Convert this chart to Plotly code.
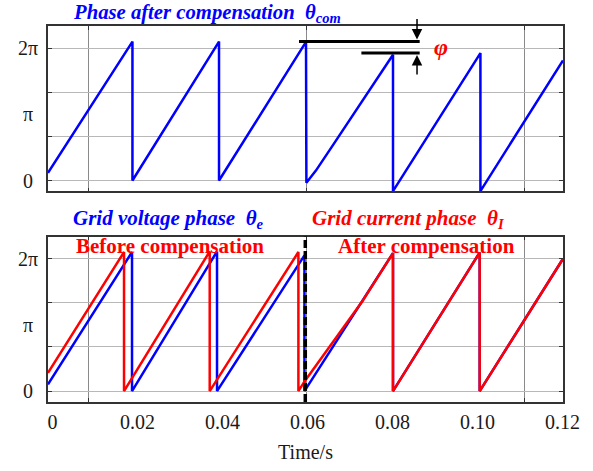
import math
import plotly.graph_objects as go

PI = math.pi

# Time axis limits and tick labels (seconds)
t_range = [-0.00104, 0.12014]
t_ticks = [0, 0.02, 0.04, 0.06, 0.08, 0.10, 0.12]
t_ticktext = ["0", "0.02", "0.04", "0.06", "0.08", "0.10", "0.12"]
t_grid = [0.0084, 0.0597, 0.1110]

# Phase axis limits, grid and labels (rad)
ph_range = [-0.518, 7.335]
ph_grid = [0, 2 * PI / 3, 4 * PI / 3, 2 * PI]
ph_ticks = [0, PI, 2 * PI]
ph_ticktext = ["0\u2005", "\u03c0\u2005", "2\u03c0"]

# Phase after compensation, theta_com (sawtooth vertices)
t_com = [-0.00104, 0.01883, 0.01883, 0.03920, 0.03920, 0.05967, 0.05976,
         0.06200, 0.06640, 0.08014, 0.08014, 0.10071, 0.10071, 0.12014]
th_com = [0.363, 6.594, 0.0, 6.594, 0.0, 6.58, -0.108,
          0.470, 1.800, 5.968, -0.50, 6.05, -0.50, 5.70]

# Grid voltage phase, theta_e
t_e = [-0.00104, 0.01873, 0.01873, 0.03873, 0.03873, 0.05930, 0.05930,
       0.08014, 0.08014, 0.10054, 0.10054, 0.12014]
th_e = [0.316, 6.60, 0.0, 6.63, 0.0, 6.44, 0.0,
        6.55, 0.0, 6.58, 0.0, 6.28]

# Grid current phase, theta_I
t_i = [-0.00104, 0.01685, 0.01685, 0.03701, 0.03701, 0.05788, 0.05788,
       0.05936, 0.07301, 0.08014, 0.08014, 0.10054, 0.10054, 0.12014]
th_i = [0.862, 6.60, 0.0, 6.63, 0.0, 6.60, 0.0,
        0.471, 4.29, 6.55, 0.0, 6.58, 0.0, 6.28]

# Instant the compensation is switched on
comp_start = 0.0595

# Phase-shift marker (phi) between successive peaks of theta_com
phi_upper = 6.594
phi_lower = 6.05
phi_upper_t = [0.05802, 0.08642]
phi_lower_t = [0.07270, 0.08642]
phi_arrow_t = 0.08579

BLUE = "#0000ff"
RED = "#ff0000"
FONT = "Liberation Serif"

fig = go.Figure()

fig.add_trace(go.Scatter(x=t_com, y=th_com, mode="lines",
                         line=dict(color=BLUE, width=2.5),
                         xaxis="x", yaxis="y", showlegend=False))
fig.add_trace(go.Scatter(x=t_e, y=th_e, mode="lines",
                         line=dict(color=BLUE, width=2.5),
                         xaxis="x2", yaxis="y2", showlegend=False))
fig.add_trace(go.Scatter(x=t_i, y=th_i, mode="lines",
                         line=dict(color=RED, width=2.5),
                         xaxis="x2", yaxis="y2", showlegend=False))

# empty traces so the label-only axes get drawn
for xa, ya in (("x3", "y2"), ("x", "y3"), ("x2", "y4")):
    fig.add_trace(go.Scatter(x=[], y=[], mode="lines", xaxis=xa, yaxis=ya,
                             showlegend=False, hoverinfo="skip"))

frame = dict(showline=True, linecolor="#333333", linewidth=1.5,
             mirror="ticks", ticks="inside", ticklen=4, tickwidth=1,
             tickcolor="#333333", zeroline=False, showticklabels=False)

top_dom = [0.56, 1.0]
bot_dom = [0.0, 0.44]

fig.update_layout(
    width=593, height=471,
    margin=dict(l=48, r=30, t=26, b=66),
    paper_bgcolor="white", plot_bgcolor="white",
    font=dict(family=FONT, size=20, color="#1a1a1a"),
    xaxis=dict(domain=[0, 1], anchor="y", range=t_range, tickvals=t_grid,
               showgrid=True, gridcolor="#8a8a8a", gridwidth=1, **frame),
    yaxis=dict(domain=top_dom, anchor="x", range=ph_range, tickvals=ph_grid,
               showgrid=True, gridcolor="#b8b8b8", gridwidth=1, **frame),
    xaxis2=dict(domain=[0, 1], anchor="y2", range=t_range, tickvals=t_grid,
                showgrid=True, gridcolor="#8a8a8a", gridwidth=1, **frame),
    yaxis2=dict(domain=bot_dom, anchor="x2", range=ph_range, tickvals=ph_grid,
                showgrid=True, gridcolor="#b8b8b8", gridwidth=1, **frame),
    # label-only axes
    xaxis3=dict(overlaying="x2", anchor="y2", side="bottom", range=t_range,
                tickvals=t_ticks, ticktext=t_ticktext, ticks="",
                showgrid=False, zeroline=False, showline=False,
                ticklabelstandoff=6,
                title=dict(text="Time/s", standoff=12,
                           font=dict(family=FONT, size=20))),
    yaxis3=dict(overlaying="y", anchor="x", side="left", range=ph_range,
                tickvals=ph_ticks, ticktext=ph_ticktext, ticks="",
                showgrid=False, zeroline=False, showline=False,
                ticklabelstandoff=9),
    yaxis4=dict(overlaying="y2", anchor="x2", side="left", range=ph_range,
                tickvals=ph_ticks, ticktext=ph_ticktext, ticks="",
                showgrid=False, zeroline=False, showline=False,
                ticklabelstandoff=9),
)

# compensation switch-on instant
fig.add_shape(type="line", xref="x2", yref="y2 domain",
              x0=comp_start, x1=comp_start, y0=0, y1=1,
              line=dict(color="black", width=3.5, dash="8px,3px"),
              layer="above")

# phi marker: reference lines at the two peaks
for (ta, tb), yv in ((phi_upper_t, phi_upper), (phi_lower_t, phi_lower)):
    fig.add_shape(type="line", xref="x", yref="y", x0=ta, x1=tb, y0=yv, y1=yv,
                  line=dict(color="black", width=3), layer="above")

fig.add_annotation(x=phi_arrow_t, y=phi_upper, xref="x", yref="y", text="",
                   showarrow=True, ax=0, ay=-24, arrowhead=2, arrowsize=1.4,
                   arrowwidth=1.5, arrowcolor="black", standoff=2)
fig.add_annotation(x=phi_arrow_t, y=phi_lower, xref="x", yref="y", text="",
                   showarrow=True, ax=0, ay=23, arrowhead=2, arrowsize=1.4,
                   arrowwidth=1.5, arrowcolor="black", standoff=2)


def label(text, x, y, color, size=20, anchor="left"):
    fig.add_annotation(text=text, x=x, y=y, xref="paper", yref="paper",
                       xanchor=anchor, yanchor="middle", showarrow=False,
                       font=dict(family=FONT, size=size, color=color))


label("<b><i>Phase after compensation  \u03b8<sub>com</sub></i></b>",
      0.044, 1.034, BLUE, size=20.7)
label("<b><i>\u03c6</i></b>", 0.7639, 0.9454, RED, size=24, anchor="center")
label("<b><i>Grid voltage phase  \u03b8<sub>e</sub></i></b>",
      0.0454, 0.4863, BLUE, size=21)
label("<b><i>Grid current phase  \u03b8<sub>I</sub></i></b>",
      0.5095, 0.4863, RED, size=21)
label("<b>Before compensation</b>", 0.0499, 0.415, RED, size=21)
label("<b>After compensation</b>", 0.5600, 0.415, RED, size=21)

fig.write_html("out.html")
